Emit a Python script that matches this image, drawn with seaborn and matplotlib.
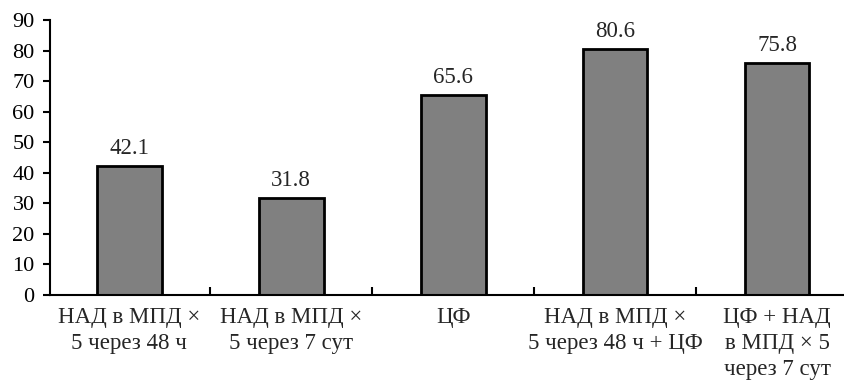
import matplotlib
matplotlib.use("Agg")
import matplotlib.pyplot as plt
import seaborn as sns
import pandas as pd
from matplotlib.ticker import FixedLocator

# --- данные ---
groups = [
    "НАД в МПД ×\n5 через 48 ч",
    "НАД в МПД ×\n5 через 7 сут",
    "ЦФ",
    "НАД в МПД ×\n5 через 48 ч + ЦФ",
    "ЦФ + НАД\nв МПД × 5\nчерез 7 сут",
]
values = [42.1, 31.8, 65.6, 80.6, 75.8]
y_ticks = [0, 10, 20, 30, 40, 50, 60, 70, 80, 90]

df = pd.DataFrame({"group": groups, "value": values})

sns.set_style("white")
plt.rcParams["font.family"] = ["Liberation Serif", "DejaVu Serif"]

fig = plt.figure(figsize=(8.45, 3.82), dpi=100)
ax = fig.add_axes([50 / 845, 87 / 382, 808 / 845, 275 / 382])

sns.barplot(data=df, x="group", y="value", color="#808080", width=0.4,
            edgecolor="black", linewidth=2, saturation=1, ax=ax)

# подписи значений над столбцами
for c in ax.containers:
    ax.bar_label(c, fmt="%.1f", padding=5, fontsize=16.5)

ax.set_ylim(0, 90)
ax.set_xlim(-0.49, len(groups) - 0.5)
ax.set_yticks(y_ticks)
ax.set_xlabel("")
ax.set_ylabel("")

for s in ["top", "right"]:
    ax.spines[s].set_visible(False)
for s in ["left", "bottom"]:
    ax.spines[s].set_color("black")
    ax.spines[s].set_linewidth(1.5)

ax.tick_params(axis="y", direction="out", length=5, width=1.5, labelsize=16,
               pad=6, left=True, colors="black")
ax.tick_params(axis="x", which="major", length=0, labelsize=16.5, pad=9)
ax.xaxis.set_minor_locator(FixedLocator([i + 0.5 for i in range(len(groups) - 1)]))
ax.tick_params(axis="x", which="minor", direction="in", length=6, width=1.5,
               bottom=True, colors="black")
for lbl in ax.get_xticklabels():
    lbl.set_linespacing(1.3)

fig.savefig("out.png", dpi=100)
